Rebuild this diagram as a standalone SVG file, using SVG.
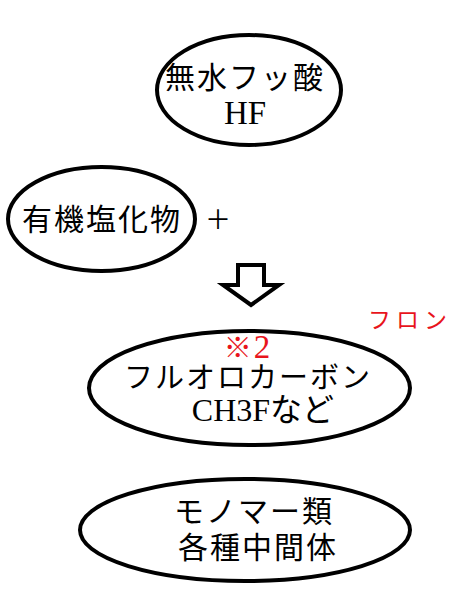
<svg xmlns="http://www.w3.org/2000/svg" width="475" height="613" viewBox="0 0 475 613">
<style>
.node ellipse{fill:#fff;stroke:#000;stroke-width:4}
.t{font-family:"Liberation Serif","Noto Sans CJK JP",serif;font-size:30px;fill:#000;text-anchor:middle;letter-spacing:2px}
.r{fill:#e8141c}
.arrow{fill:#fff;stroke:#000;stroke-width:4;stroke-linejoin:miter}
</style>
<rect width="475" height="613" fill="#fff"/>
<g id="node-hf" class="node">
<ellipse cx="249" cy="90" rx="92" ry="55"/>
<text class="t" x="245" y="88">無水フッ酸</text>
<text class="t" x="245" y="124" style="font-size:33px;letter-spacing:0">HF</text>
</g>
<g id="node-organochloride" class="node">
<ellipse cx="101.5" cy="219" rx="93.5" ry="52"/>
<text class="t" x="102" y="230">有機塩化物</text>
</g>
<g id="plus">
<text class="t" x="218" y="229" style="font-size:26px;letter-spacing:0">＋</text>
</g>
<g id="connectors">
<path class="arrow" d="M238 265 H264 V285 H279 L251 305 L223 285 H238 Z"/>
</g>
<g id="label-freon">
<text class="t r" x="410" y="328" style="font-size:23px;letter-spacing:5px">フロン</text>
</g>
<g id="node-fluorocarbon" class="node">
<ellipse cx="249.5" cy="388" rx="160.5" ry="57"/>
<text class="t r" x="248" y="358" style="font-size:28px;letter-spacing:2px">※<tspan style="font-size:33px">2</tspan></text>
<text class="t" x="248" y="388" style="font-size:29px;letter-spacing:2px">フルオロカーボン</text>
<text class="t" x="263" y="421" style="font-size:32px;letter-spacing:0">CH3Fなど</text>
</g>
<g id="node-monomer" class="node">
<ellipse cx="245" cy="530" rx="165" ry="51"/>
<text class="t" x="254" y="522">モノマー類</text>
<text class="t" x="258" y="558">各種中間体</text>
</g>
</svg>
